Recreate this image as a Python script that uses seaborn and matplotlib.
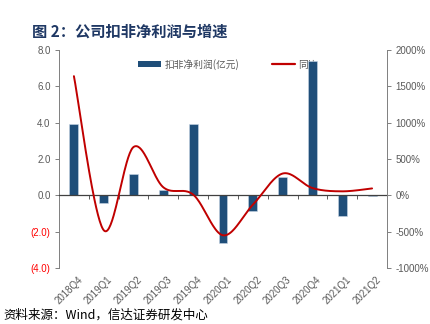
import numpy as np
import pandas as pd
import matplotlib
matplotlib.use("Agg")
import matplotlib.pyplot as plt
import matplotlib.transforms as mtransforms
from matplotlib.lines import Line2D
from matplotlib.patches import Patch
import seaborn as sns

# Quarterly data
quarters = ["2018Q4", "2019Q1", "2019Q2", "2019Q3", "2019Q4", "2020Q1",
            "2020Q2", "2020Q3", "2020Q4", "2021Q1", "2021Q2"]
profit = [3.95, -0.40, 1.15, 0.27, 3.90, -2.60, -0.85, 1.00, 7.40, -1.15, -0.05]   # 亿元
yoy = [1640, -480, 665, 110, 10, -550, -130, 300, 100, 55, 95]                       # %

left_ticks = [8, 6, 4, 2, 0, -2, -4]
right_ticks = [2000, 1500, 1000, 500, 0, -500, -1000]

sns.set_theme(style="white")
plt.rcParams["font.family"] = ["Liberation Sans", "Noto Sans CJK SC", "DejaVu Sans"]

BAR = "#1F4E79"
LINE = "#C00000"
GREY = "#595959"
CJK = ["Noto Sans CJK SC", "DejaVu Sans"]


def smooth(xv, yv, n=40):
    """Cardinal (Catmull-Rom) Bezier smoothing like spreadsheet 'smoothed line'."""
    p = np.column_stack([xv, yv]).astype(float)
    ext = np.vstack([p[0], p, p[-1]])
    out = []
    t = np.linspace(0, 1, n)[:, None]
    for i in range(1, len(ext) - 2):
        p0, p1, p2, p3 = ext[i - 1], ext[i], ext[i + 1], ext[i + 2]
        c1 = p1 + (p2 - p0) / 6.0
        c2 = p2 - (p3 - p1) / 6.0
        seg = ((1 - t) ** 3) * p1 + 3 * ((1 - t) ** 2) * t * c1 + 3 * (1 - t) * t ** 2 * c2 + t ** 3 * p2
        out.append(seg if i == 1 else seg[1:])
    s = np.vstack(out)
    return s[:, 0], s[:, 1]


fig = plt.figure(figsize=(4.31, 3.24), dpi=100)
ax = fig.add_axes([59 / 431, 1 - 268 / 324, 328 / 431, 218 / 324])

df = pd.DataFrame({"q": quarters, "v": profit})
sns.barplot(data=df, x="q", y="v", ax=ax, color=BAR, width=0.3, saturation=1,
            edgecolor="#c9d6e6", linewidth=0.4, zorder=2)

ax.set_xlim(-0.5, len(quarters) - 0.5)
ax.set_ylim(-4, 8)
ax.set_yticks(left_ticks)
ax.set_yticklabels([f"{v:.1f}" if v >= 0 else f"({-v:.1f})" for v in left_ticks])
for lab, v in zip(ax.get_yticklabels(), left_ticks):
    lab.set_color("#FF0000" if v < 0 else GREY)
ax.tick_params(axis="y", length=3, width=0.7, color="#7f7f7f", labelsize=7, pad=3, left=True)
ax.set_xlabel("")
ax.set_ylabel("")

# category axis sits on the zero line, with ticks between categories
ax.spines["bottom"].set_position(("data", 0))
ax.spines["bottom"].set_color("#404040")
ax.spines["bottom"].set_linewidth(0.9)
ax.set_xticks(np.arange(0.5, len(quarters) - 0.5, 1.0))
ax.set_xticklabels([])
ax.tick_params(axis="x", length=3, width=0.6, color="#404040", bottom=True, direction="out")
ax.spines["top"].set_visible(False)
ax.spines["right"].set_visible(False)
ax.spines["left"].set_color("#7f7f7f")
ax.spines["left"].set_linewidth(0.7)

trans = mtransforms.blended_transform_factory(ax.transData, ax.transAxes)
for i, q in enumerate(quarters):
    ax.text(i + 0.12, -0.03, q, transform=trans, rotation=45, ha="right", va="top",
            fontsize=7, color=GREY, rotation_mode="anchor")

# legend sits beneath the bars, as in the original layout
handles = [Patch(facecolor=BAR, edgecolor="none"), Line2D([], [], color=LINE, linewidth=1.6)]
leg = ax.legend(handles, ["扣非净利润(亿元)", "同比"], ncol=2, frameon=False,
                loc="upper center", bbox_to_anchor=(0.515, 1.0), prop={"family": CJK, "size": 7},
                handlelength=2.4, handleheight=0.5, columnspacing=3.4, handletextpad=0.3,
                labelcolor=GREY)
leg.set_zorder(1)

ax2 = ax.twinx()
xs, ys = smooth(np.arange(len(quarters)), yoy)
sns.lineplot(x=xs, y=ys, ax=ax2, color=LINE, linewidth=1.4, sort=False, estimator=None)
ax2.set_ylim(-1000, 2000)
ax2.set_yticks(right_ticks)
ax2.set_yticklabels([f"{v}%" for v in right_ticks])
ax2.tick_params(axis="y", length=3, width=0.7, color="#7f7f7f", labelsize=7, labelcolor=GREY,
                pad=3, right=True)
ax2.set_ylabel("")
for s in ["top", "bottom", "left"]:
    ax2.spines[s].set_visible(False)
ax2.spines["right"].set_color("#7f7f7f")
ax2.spines["right"].set_linewidth(0.7)
if ax2.get_legend() is not None:
    ax2.get_legend().remove()

fig.text(32 / 431, 1 - 32 / 324, "图 2：公司扣非净利润与增速", family=CJK, fontsize=11,
         fontweight="bold", color="#1F3864", va="center", ha="left")
fig.text(3 / 431, 1 - 315 / 324, "资料来源：Wind，信达证券研发中心", family=CJK, fontsize=9,
         color="black", va="center", ha="left", style="italic")

fig.savefig("out.png", dpi=100)
